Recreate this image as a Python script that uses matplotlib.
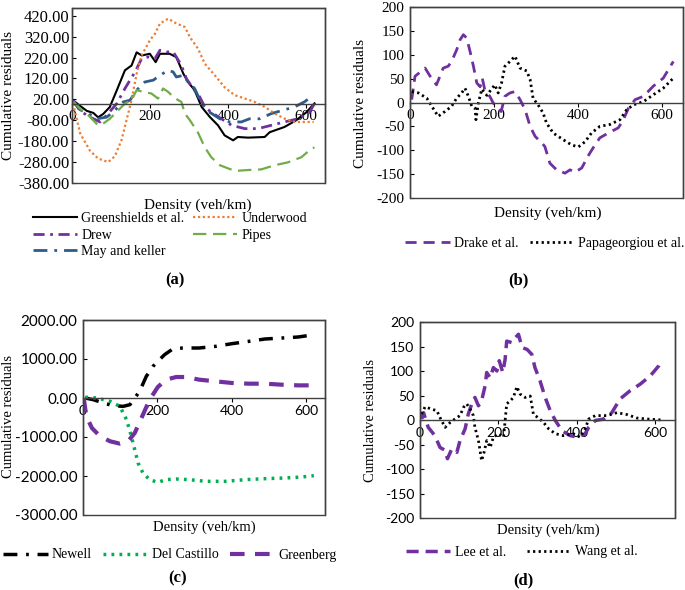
import numpy as np
import matplotlib
matplotlib.use('Agg')
import matplotlib.pyplot as plt
from matplotlib.patches import Rectangle

# 论文风格：Times 类字体
plt.rcParams['font.family'] = 'serif'
plt.rcParams['font.serif'] = ['Liberation Serif', 'DejaVu Serif']
plt.rcParams['font.size'] = 10

# ---------------- (a) ----------------
gs_x = [3, 20, 38, 55, 67, 80, 97, 115, 136, 153, 166, 179, 200, 215, 226, 251, 268, 286, 298, 315, 333, 354, 375, 392, 414, 426, 452, 495, 508, 546, 576, 602, 623]
gs_y = [15, -10, -35, -45, -66, -50, -17, 63, 159, 182, 245, 230, 238, 198, 238, 238, 222, 143, 103, 64, -16, -64, -104, -152, -176, -160, -163, -160, -137, -112, -80, -42, 1]
uw_x = [3, 21, 46, 67, 93, 110, 127, 140, 153, 166, 179, 200, 213, 226, 247, 268, 290, 303, 324, 341, 367, 392, 418, 444, 469, 495, 521, 546, 572, 597, 621]
uw_y = [0, -143, -225, -263, -280, -252, -176, -80, 16, 142, 230, 303, 333, 383, 406, 383, 366, 317, 262, 191, 135, 78, 40, 24, 8, -16, -48, -72, -88, -88, -88]
drew_x = [3, 21, 46, 72, 89, 115, 136, 149, 162, 179, 196, 213, 226, 243, 260, 281, 294, 311, 328, 341, 358, 384, 410, 444, 478, 512, 546, 580, 610, 623]
drew_y = [15, -35, -65, -88, -56, 0, 72, 112, 151, 215, 223, 215, 255, 247, 247, 183, 119, 72, 32, -16, -42, -73, -104, -120, -120, -104, -88, -73, -42, 0]
pipes_x = [3, 21, 42, 67, 80, 97, 119, 136, 153, 166, 183, 204, 221, 234, 247, 260, 273, 281, 290, 303, 324, 341, 358, 380, 405, 422, 452, 486, 521, 555, 589, 615, 623]
pipes_y = [10, -25, -56, -104, -96, -73, -32, 0, 16, 64, 56, 48, 24, 72, 56, 32, 16, 8, -48, -80, -140, -209, -257, -295, -313, -322, -318, -315, -295, -281, -257, -216, -210]
mk_x = [3, 21, 42, 63, 89, 106, 132, 149, 166, 187, 209, 226, 247, 260, 268, 286, 298, 315, 333, 354, 380, 405, 435, 456, 482, 512, 542, 572, 597, 615]
mk_y = [10, -30, -48, -73, -65, -40, 8, 16, 64, 103, 112, 135, 159, 151, 127, 135, 103, 72, 0, -42, -73, -88, -88, -73, -73, -48, -32, -16, 8, 32]

# ---------------- (b) ----------------
drake_x = [4, 12, 36, 48, 63, 79, 91, 99, 111, 119, 127, 135, 143, 151, 159, 167, 172, 179, 190, 198, 206, 217, 226, 238, 250, 262, 274, 286, 298, 314, 321, 333, 349, 369, 381, 393, 409, 424, 436, 452, 472, 496, 508, 520, 536, 556, 579, 603, 627]
drake_y = [6, 55, 72, 55, 37, 72, 76, 86, 110, 131, 142, 135, 107, 76, 41, 33, 51, 23, 13, -1, -8, -19, 13, 20, 23, 6, -15, -50, -71, -85, -92, -127, -141, -148, -141, -146, -137, -112, -95, -74, -64, -53, -36, -12, 6, 13, 34, 51, 86]
papa_x = [4, 20, 40, 52, 67, 83, 99, 111, 123, 131, 139, 147, 155, 157, 163, 171, 183, 194, 202, 210, 218, 226, 238, 250, 262, 278, 286, 293, 305, 317, 325, 341, 365, 385, 401, 417, 432, 452, 476, 500, 516, 532, 556, 579, 603, 627]
papa_y = [23, 20, 9, -8, -29, -19, -8, 9, 20, 30, 13, -8, -12, -36, 0, 28, 15, 28, 37, 20, 41, 76, 86, 97, 72, 66, 48, 9, -5, -22, -43, -64, -78, -89, -93, -82, -64, -50, -46, -36, -15, -5, 2, 16, 30, 51]

# ---------------- (c) ----------------
newell_x = [6, 28, 55, 81, 108, 126, 139, 152, 170, 188, 201, 219, 241, 268, 312, 356, 400, 445, 489, 534, 578, 622]
newell_y = [0, -44, -128, -197, -214, -171, 0, 170, 555, 812, 940, 1111, 1256, 1282, 1282, 1324, 1393, 1452, 1513, 1538, 1564, 1624]
dc_x = [6, 37, 73, 99, 117, 130, 139, 148, 161, 179, 201, 223, 250, 285, 330, 383, 436, 489, 543, 587, 620]
dc_y = [20, 0, -86, -214, -556, -984, -1325, -1667, -1923, -2094, -2162, -2094, -2077, -2094, -2137, -2137, -2094, -2068, -2051, -2026, -1992]
gb_x = [2, 9, 24, 46, 73, 99, 121, 139, 157, 179, 201, 223, 250, 277, 312, 356, 400, 445, 489, 534, 578, 622]
gb_y = [0, -470, -770, -984, -1111, -1170, -1111, -897, -513, -44, 282, 470, 538, 538, 470, 427, 385, 367, 367, 341, 324, 324]

# ---------------- (d) ----------------
lee_x = [4, 9, 21, 38, 51, 64, 70, 81, 94, 102, 115, 123, 132, 140, 149, 157, 166, 170, 179, 187, 196, 202, 211, 217, 221, 234, 243, 251, 260, 273, 285, 293, 306, 319, 332, 345, 362, 383, 404, 421, 430, 447, 468, 489, 510, 536, 561, 587, 608, 614]
lee_y = [2, 15, -15, -32, -56, -62, -79, -59, -66, -42, -18, 12, 33, 46, 29, 39, 70, 97, 86, 107, 100, 121, 97, 124, 161, 158, 168, 175, 148, 144, 134, 107, 80, 46, 19, -1, -22, -32, -35, -28, -15, -1, 2, 15, 43, 60, 73, 90, 110, 121]
wang_x = [4, 13, 30, 43, 51, 64, 77, 89, 102, 111, 119, 128, 136, 140, 149, 157, 163, 170, 179, 187, 200, 213, 221, 230, 238, 247, 255, 268, 281, 289, 302, 315, 328, 345, 366, 391, 408, 421, 430, 447, 477, 502, 528, 553, 579, 617]
wang_y = [12, 27, 22, 19, 5, -15, -5, 2, 9, 26, 33, 22, 9, -15, -42, -83, -67, -42, -56, -35, -28, -35, 33, 39, 46, 68, 53, 46, 49, 12, 4, -5, -18, -28, -32, -28, -35, -18, 2, 9, 9, 15, 11, 4, 2, 0]

x_ticks = [0, 200, 400, 600]

purple = '#7030A0'
W, H = 685, 590
fig = plt.figure(figsize=(W / 100, H / 100), dpi=100)


def px_axes(l, t, r, b):
    return fig.add_axes([l / W, 1 - b / H, (r - l) / W, (b - t) / H])


def px_text(x, y, s, **kw):
    fig.text(x / W, 1 - y / H, s, ha='center', va='center', **kw)


def frame(ax, ylim, yticks, yfmt, tickfont, ticksize, ysize=None, ypad=4):
    ax.set_xlim(0, 650)
    ax.set_ylim(*ylim)
    ax.spines['bottom'].set_position(('data', 0))
    for s in ax.spines.values():
        s.set_color('#404040')
        s.set_linewidth(1.0)
    ax.add_patch(Rectangle((0, 0), 1, 1, transform=ax.transAxes, fill=False,
                           ec='#404040', lw=1.0, clip_on=False, zorder=5))
    ax.set_xticks(x_ticks)
    ax.set_yticks(yticks)
    ax.set_yticklabels([yfmt.format(v) for v in yticks])
    ax.tick_params(axis='y', direction='in', length=3, pad=ypad)
    ax.tick_params(axis='x', direction='out', length=3, pad=2)
    ax.tick_params(labelfontfamily=tickfont, labelsize=ticksize, colors='black')
    if ysize:
        ax.tick_params(axis='y', labelsize=ysize)


leg_kw = dict(frameon=False, fontsize=10, handlelength=3.2, handletextpad=0.3,
              borderaxespad=0, borderpad=0, labelspacing=0.25)

# ============ (a) ============
ax1 = px_axes(72, 8, 325, 183)
l1, = ax1.plot(gs_x, gs_y, color='black', lw=1.5, label='Greenshields et al.')
l2, = ax1.plot(drew_x, drew_y, color=purple, lw=2, ls=(0, (4, 2, 1, 2)), label='Drew')
l3, = ax1.plot(mk_x, mk_y, color='#2E5C8A', lw=2, ls=(0, (5, 2.5, 1, 2.5)), label='May and keller')
l4, = ax1.plot(uw_x, uw_y, color='#ED7D31', lw=1.6, ls=(0, (1, 1.2)), label='Underwood')
l5, = ax1.plot(pipes_x, pipes_y, color='#70AD47', lw=1.6, ls=(0, (6, 3)), label='Pipes')
frame(ax1, (-380, 457), list(range(-380, 421, 100)), '{:.2f}', 'Liberation Serif', 11,
      ysize=12, ypad=2)
ax1.legend(handles=[l1, l2, l3, l4, l5], ncol=2, loc='center', columnspacing=0.6,
           bbox_to_anchor=(170 / W, 1 - 235 / H), bbox_transform=fig.transFigure, **leg_kw)
px_text(198, 205, 'Density (veh/km)', fontsize=11)
px_text(9, 95, 'Cumulative residuals', fontsize=11, rotation=90)
px_text(175, 280, '(a)', fontsize=12, fontweight='bold')

# ============ (b) ============
ax2 = px_axes(410, 7, 683, 198)
m1, = ax2.plot(drake_x, drake_y, color=purple, lw=2, ls=(0, (4, 2.5)), label='Drake et al.')
m2, = ax2.plot(papa_x, papa_y, color='black', lw=2, ls=(0, (0.8, 1.2)), label='Papageorgiou et al.')
frame(ax2, (-200, 200), list(range(-200, 201, 50)), '{:d}', 'Liberation Serif', 11)
ax2.legend(handles=[m1, m2], ncol=2, loc='center', columnspacing=0.8,
           bbox_to_anchor=(545 / W, 1 - 243 / H), bbox_transform=fig.transFigure, **leg_kw)
px_text(548, 213, 'Density (veh/km)', fontsize=11)
px_text(361, 103, 'Cumulative residuals', fontsize=11, rotation=90)
px_text(518, 280, '(b)', fontsize=12, fontweight='bold')

# ============ (c) ============
ax3 = px_axes(83, 320, 325, 515)
n1, = ax3.plot(newell_x, newell_y, color='black', lw=2.5, ls=(0, (4, 2.5, 0.8, 2.5)), label='Newell')
n2, = ax3.plot(dc_x, dc_y, color='#00B050', lw=2.5, ls=(0, (0.8, 1.5)), label='Del Castillo')
n3, = ax3.plot(gb_x, gb_y, color=purple, lw=3, ls=(0, (3.5, 2.5)), label='Greenberg')
frame(ax3, (-3000, 2000), list(range(-3000, 2001, 1000)), '{:.2f}', 'Lato', 10, ysize=11)
ax3.legend(handles=[n1, n2, n3], ncol=3, loc='center', columnspacing=0.8,
           bbox_to_anchor=(170 / W, 1 - 555 / H), bbox_transform=fig.transFigure, **leg_kw)
px_text(204, 527, 'Density (veh/km)', fontsize=10.5)
px_text(9, 417, 'Cumulative residuals', fontsize=10.5, rotation=90)
px_text(178, 578, '(c)', fontsize=12, fontweight='bold')

# ============ (d) ============
ax4 = px_axes(420, 322, 675, 518)
k1, = ax4.plot(lee_x, lee_y, color=purple, lw=2.5, ls=(0, (3.5, 2)), label='Lee et al.')
k2, = ax4.plot(wang_x, wang_y, color='black', lw=2, ls=(0, (0.8, 1.2)), label='Wang et al.')
frame(ax4, (-200, 200), list(range(-200, 201, 50)), '{:d}', 'Lato', 10)
ax4.legend(handles=[k1, k2], ncol=2, loc='center', columnspacing=1.5,
           bbox_to_anchor=(522 / W, 1 - 552 / H), bbox_transform=fig.transFigure, **leg_kw)
px_text(548, 530, 'Density (veh/km)', fontsize=10.5)
px_text(370, 420, 'Cumulative residuals', fontsize=10.5, rotation=90)
px_text(523, 580, '(d)', fontsize=12, fontweight='bold')

plt.savefig('out.png', dpi=100, facecolor='white')
